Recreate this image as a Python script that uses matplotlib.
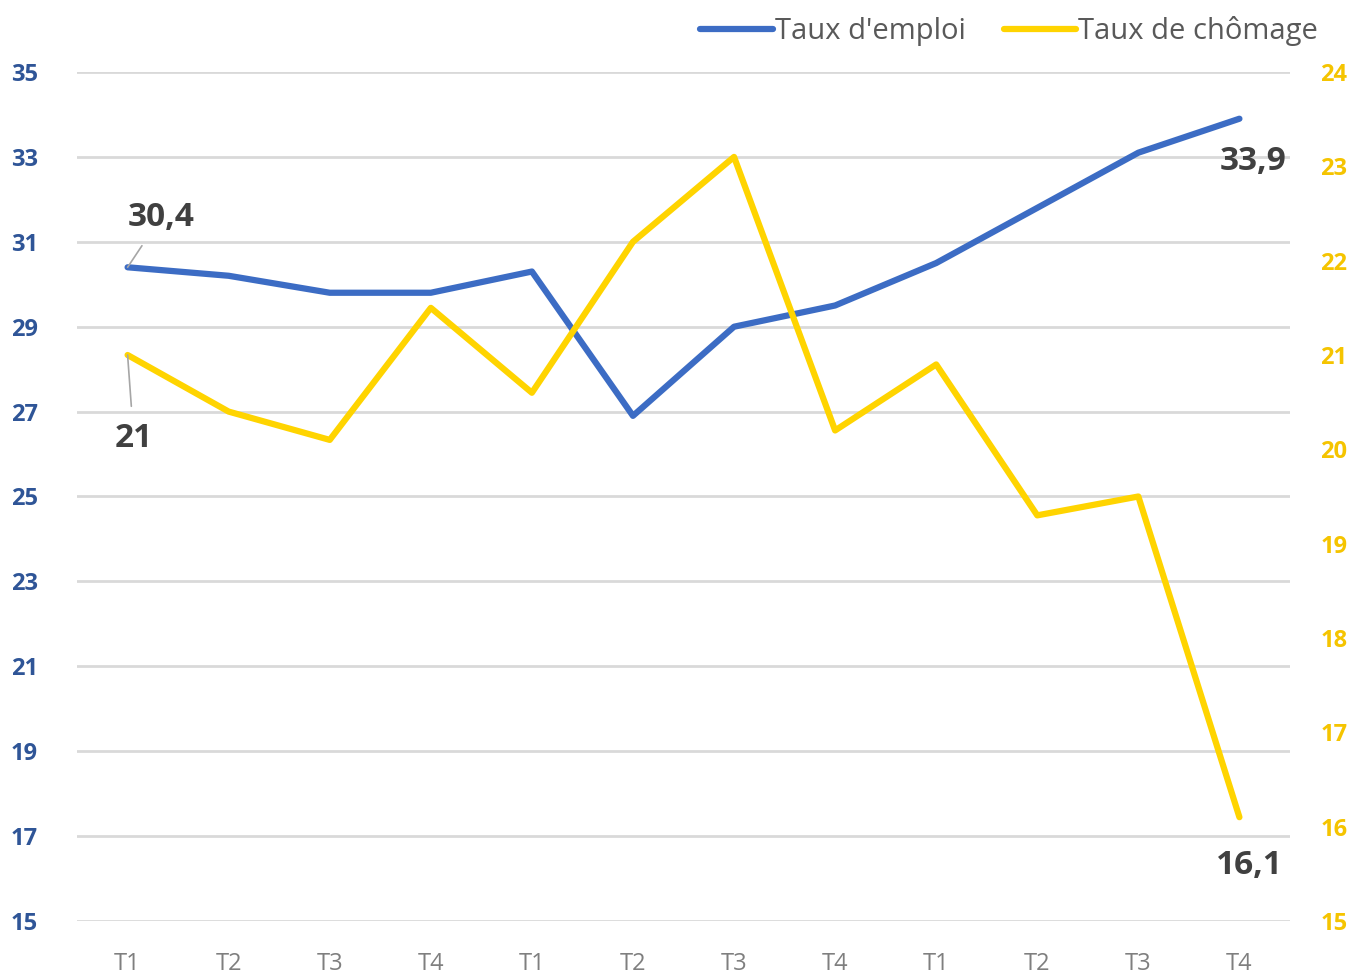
import matplotlib.pyplot as plt
import numpy as np

plt.rcParams['font.family'] = ['Open Sans', 'DejaVu Sans']

quarters = ['T1', 'T2', 'T3', 'T4'] * 3
emploi = [30.4, 30.2, 29.8, 29.8, 30.3, 26.9, 29.0, 29.5, 30.5, 31.8, 33.1, 33.9]
chomage = [21.0, 20.4, 20.1, 21.5, 20.6, 22.2, 23.1, 20.2, 20.9, 19.3, 19.5, 16.1]

blue = '#3C6CC4'
yellow = '#FFD400'
x = np.arange(len(quarters))

fig = plt.figure(figsize=(13.59, 9.76), dpi=100)
ax = fig.add_axes([0.0567, 0.0564, 0.8925, 0.8698])
ax2 = ax.twinx()

l1, = ax.plot(x, emploi, color=blue, lw=4.5, solid_capstyle='round', zorder=3)
l2, = ax2.plot(x, chomage, color=yellow, lw=4.5, solid_capstyle='round', zorder=3)

ax.set_xlim(-0.5, 11.5)
ax.set_ylim(15, 35)
ax.set_yticks(range(15, 36, 2))
ax2.set_ylim(15, 24)
ax2.set_yticks(range(15, 25))
ax.set_xticks(x)
ax.set_xticklabels(quarters)

ax.grid(axis='y', color='#D9D9D9', lw=2)
ax.set_axisbelow(True)
for a in (ax, ax2):
    for s in a.spines.values():
        s.set_visible(False)
    a.tick_params(length=0)

ax.tick_params(axis='y', labelcolor='#2F5597', labelsize=17, pad=28)
ax2.tick_params(axis='y', labelcolor='#F5C400', labelsize=17, pad=22)
for t in ax.get_yticklabels() + ax2.get_yticklabels():
    t.set_fontweight('bold')
ax.tick_params(axis='x', labelcolor='#7F7F7F', labelsize=17, pad=22)

# data labels
lab = dict(fontsize=24, fontweight='bold', color='#404040', ha='center', va='center')
ax.annotate('30,4', xy=(x[0], emploi[0]), xytext=(x[0] + 0.33, 31.58),
            arrowprops=dict(arrowstyle='-', color='#A6A6A6', lw=1.2, shrinkA=8, shrinkB=0), **lab)
ax.annotate('33,9', xy=(x[-1], emploi[-1]), xytext=(x[-1] + 0.13, 32.9), **lab)
ax2.annotate('21', xy=(x[0], chomage[0]), xytext=(x[0] + 0.06, 20.12),
             arrowprops=dict(arrowstyle='-', color='#A6A6A6', lw=1.2, shrinkA=9, shrinkB=0), **lab)
ax2.annotate('16,1', xy=(x[-1], chomage[-1]), xytext=(x[-1] + 0.1, 15.59), **lab)

leg = fig.legend([l1, l2], ["Taux d'emploi", 'Taux de chômage'], loc='upper right',
                 bbox_to_anchor=(0.989, 1.01), ncol=2, frameon=False, fontsize=21,
                 handlelength=2.5, handletextpad=0.05, columnspacing=1.3)
for t in leg.get_texts():
    t.set_color('#595959')

fig.savefig('out.png', dpi=100)
